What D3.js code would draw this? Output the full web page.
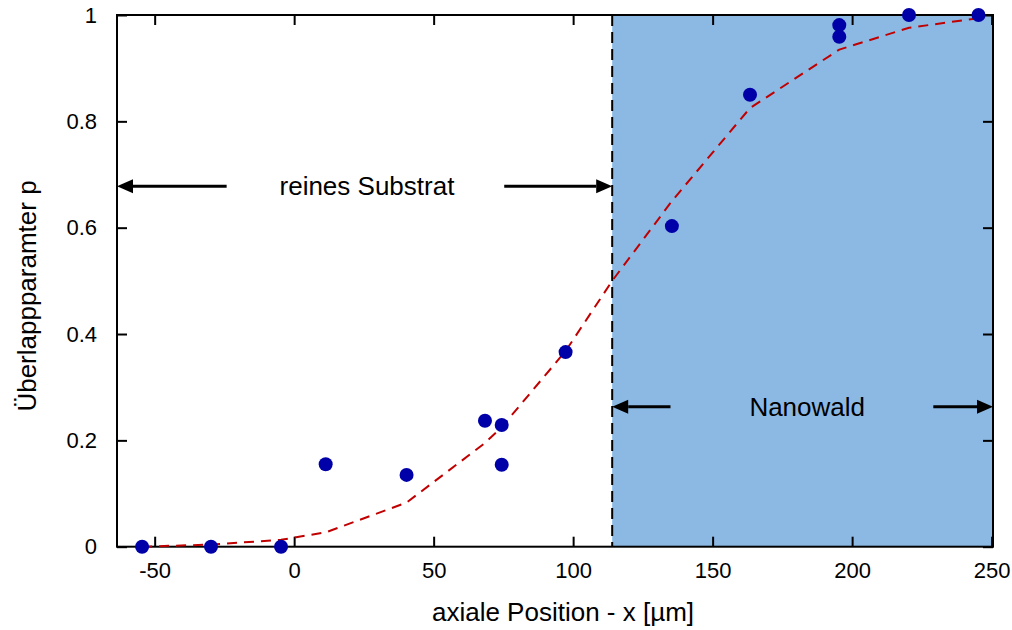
<!DOCTYPE html>
<html><head><meta charset="utf-8">
<script src="https://cdn.jsdelivr.net/npm/d3@7"></script>
<style>body{margin:0;background:#fff}svg text{font-family:"Liberation Sans",Arial,sans-serif;fill:#000}</style>
</head><body><svg id="c" width="1012" height="630"></svg>
<script>
// measured data
const pointX = [-54.5, -29.8, -4.7, 11.3, 40.3, 68.4, 74.4, 74.4, 97.3, 135.4, 163.4, 195.4, 195.4, 220.4, 245.3];
const pointY = [0, 0, 0, 0.155, 0.135, 0.237, 0.229, 0.154, 0.366, 0.603, 0.850, 0.981, 0.959, 1.0, 1.0];
// fitted curve (dashed)
const fitX = [-54.5, -29.8, -4.7, 11.3, 40.3, 68.4, 74.4, 97.3, 114, 135.4, 163.4, 195.4, 220.4, 245.3];
const fitY = [0, 0.004, 0.013, 0.027, 0.083, 0.195, 0.225, 0.368, 0.5, 0.65, 0.825, 0.935, 0.976, 0.994];
const xTicks = [-50, 0, 50, 100, 150, 200, 250];
const xTickLabels = ["-50", "0", "50", "100", "150", "200", "250"];
const yTicks = [0, 0.2, 0.4, 0.6, 0.8, 1];
const yTickLabels = ["0", "0.2", "0.4", "0.6", "0.8", "1"];
const xDomain = [-63.5, 250.5];
const yDomain = [0, 1];
const boundaryX = 114;
const regionLabels = ["reines Substrat", "Nanowald"];
const regionLabelX = [26.1, 183.9];
const regionLabelY = [0.678, 0.263];
// arrows: [x from, x to (head)], y
const arrowFrom = [-24.2, 75.3, 134.9, 229.1];
const arrowTo = [-63.5, 114, 114, 250.5];
const arrowY = [0.678, 0.678, 0.263, 0.263];
const xTitle = "axiale Position - x [µm]";
const yTitle = "Überlappparamter p";

const L = 117, R = 993, T = 15, B = 546.7;
const svg = d3.select("#c");
const x = d3.scaleLinear().domain(xDomain).range([L, R]);
const y = d3.scaleLinear().domain(yDomain).range([B, T]);

// shaded region
svg.append("rect").attr("x", x(boundaryX)).attr("y", T)
  .attr("width", R - x(boundaryX)).attr("height", B - T).attr("fill", "#8bb9e4");

// boundary dashed line
svg.append("line").attr("x1", x(boundaryX)).attr("x2", x(boundaryX))
  .attr("y1", T).attr("y2", B).attr("stroke", "#000").attr("stroke-width", 2)
  .attr("stroke-dasharray", "11,6");

// axes
const tickLen = 10;
const gB = svg.append("g").attr("transform", `translate(0,${B})`)
  .call(d3.axisBottom(x).tickValues(xTicks).tickSize(-tickLen).tickPadding(16).tickFormat((d, i) => xTickLabels[i]));
const gT = svg.append("g").attr("transform", `translate(0,${T})`)
  .call(d3.axisTop(x).tickValues(xTicks).tickSize(-tickLen).tickFormat(""));
const gL = svg.append("g").attr("transform", `translate(${L},0)`)
  .call(d3.axisLeft(y).tickValues(yTicks).tickSize(-tickLen).tickPadding(20).tickFormat((d, i) => yTickLabels[i]));
const gR = svg.append("g").attr("transform", `translate(${R},0)`)
  .call(d3.axisRight(y).tickValues(yTicks).tickSize(-tickLen).tickFormat(""));
[gB, gT, gL, gR].forEach(g => {
  g.select(".domain").remove();
  g.selectAll(".tick line").attr("stroke", "#000").attr("stroke-width", 2);
  g.selectAll(".tick text").attr("font-size", 22).attr("fill", "#000")
    .style("font-family", '"Liberation Sans",Arial,sans-serif');
});
gB.selectAll(".tick text").attr("dy", "0.71em");
svg.append("rect").attr("x", L).attr("y", T).attr("width", R - L).attr("height", B - T)
  .attr("fill", "none").attr("stroke", "#000").attr("stroke-width", 2);

// fit curve
const fitData = fitX.map((v, i) => [v, fitY[i]]);
svg.append("path").datum(fitData)
  .attr("d", d3.line().x(d => x(d[0])).y(d => y(d[1])))
  .attr("fill", "none").attr("stroke", "#c00000").attr("stroke-width", 2)
  .attr("stroke-dasharray", "10,7");

// points
svg.append("g").selectAll("circle").data(pointX.map((v, i) => [v, pointY[i]])).join("circle")
  .attr("cx", d => x(d[0])).attr("cy", d => y(d[1])).attr("r", 7).attr("fill", "#0000a8");

// arrows
arrowFrom.forEach((xf, i) => {
  const x0 = x(xf), x1 = x(arrowTo[i]), yy = y(arrowY[i]);
  const dir = Math.sign(x1 - x0), head = 16, hw = 7;
  svg.append("line").attr("x1", x0).attr("x2", x1 - dir * head).attr("y1", yy).attr("y2", yy)
    .attr("stroke", "#000").attr("stroke-width", 3);
  svg.append("path").attr("d", `M${x1},${yy}L${x1 - dir * head},${yy - hw}L${x1 - dir * head},${yy + hw}Z`)
    .attr("fill", "#000");
});

// region labels
regionLabels.forEach((t, i) => {
  svg.append("text").attr("x", x(regionLabelX[i])).attr("y", y(regionLabelY[i]) + 9)
    .attr("text-anchor", "middle").attr("font-size", 26).text(t);
});

// titles
svg.append("text").attr("x", 563).attr("y", 621).attr("text-anchor", "middle")
  .attr("font-size", 26).text(xTitle);
svg.append("text").attr("transform", "translate(36,296) rotate(-90)").attr("text-anchor", "middle")
  .attr("font-size", 26).text(yTitle);
</script></body></html>
